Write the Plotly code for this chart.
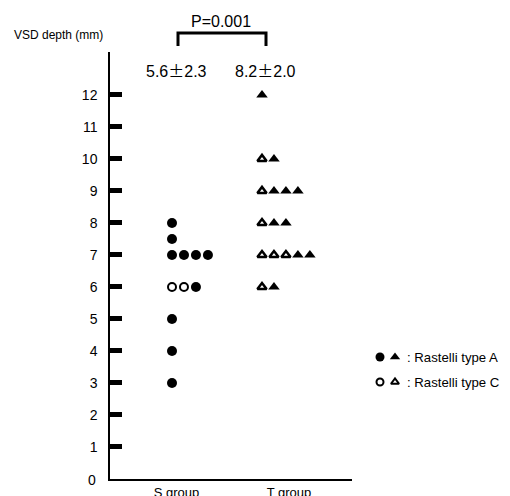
import plotly.graph_objects as go

# ---- data ----
groups = ["S group", "T group"]
s_values = [8, 7.5, 7, 7, 7, 7, 6, 6, 6, 5, 4, 3]
s_types = ["A", "A", "A", "A", "A", "A", "C", "C", "A", "A", "A", "A"]
t_values = [12, 10, 10, 9, 9, 9, 9, 8, 8, 8, 7, 7, 7, 7, 7, 6, 6]
t_types = ["A", "C", "A", "C", "A", "A", "A", "C", "A", "A", "C", "C", "C", "A", "A", "C", "A"]
y_ticks = list(range(1, 13))
means = [("5.6", "2.3"), ("8.2", "2.0")]
p_text = "P=0.001"

OFF = 8  # default page body margin
W, H = 510 - OFF, 496 - OFF
FONT = "Liberation Sans, Arial, sans-serif"
step = 0.133


def fx(p):
    return (p - OFF) / W


def fy(p):
    return 1 - (p - OFF) / H


def columns(values, gi):
    seen = {}
    xs = []
    for v in values:
        k = seen.get(v, 0)
        seen[v] = k + 1
        xs.append(gi + k * step)
    return xs


fig = go.Figure()
for gi, (vals, types, sym) in enumerate([(s_values, s_types, "circle"),
                                         (t_values, t_types, "triangle-up")]):
    xs = columns(vals, gi)
    for typ in ["A", "C"]:
        px = [x for x, t in zip(xs, types) if t == typ]
        py = [v for v, t in zip(vals, types) if t == typ]
        if typ == "A":
            marker = dict(symbol=sym, size=10, color="black", line=dict(width=0))
        else:
            marker = dict(symbol=sym, size=8, color="white",
                          line=dict(width=2.5 if sym != "circle" else 2, color="black"))
        fig.add_trace(go.Scatter(x=px, y=py, mode="markers", marker=marker,
                                 showlegend=False, hoverinfo="skip", cliponaxis=False))

# legend keys on an auxiliary axis
leg_x = [0, 1]
for row, filled in [(1, True), (0, False)]:
    for xi, sym in zip(leg_x, ["circle", "triangle-up"]):
        if filled:
            marker = dict(symbol=sym, size=9, color="black", line=dict(width=0))
        else:
            marker = dict(symbol=sym, size=7, color="white",
                          line=dict(width=2, color="black"))
        fig.add_trace(go.Scatter(x=[xi], y=[row], mode="markers", marker=marker,
                                 xaxis="x2", yaxis="y2", showlegend=False,
                                 hoverinfo="skip", cliponaxis=False))

fig.update_layout(
    width=W, height=H,
    margin=dict(l=0, r=0, t=0, b=0),
    template="none",
    paper_bgcolor="white", plot_bgcolor="white",
    font=dict(family=FONT, color="black"),
    xaxis=dict(domain=[fx(110), fx(352)], range=[-0.689, 2.0],
               showline=True, linewidth=2, linecolor="black",
               showgrid=False, zeroline=False, ticks="",
               tickvals=[0.05, 1.3], ticktext=groups,
               tickfont=dict(size=13), automargin=False),
    yaxis=dict(domain=[fy(479), fy(52)], range=[0, 13.34],
               showline=True, linewidth=1.5, linecolor="black",
               showgrid=False, zeroline=False,
               ticks="inside", ticklen=12, tickwidth=5, tickcolor="black",
               tickvals=y_ticks, ticktext=[str(v) for v in y_ticks],
               tickfont=dict(size=14), ticklabelstandoff=8, automargin=False),
    xaxis2=dict(domain=[fx(380), fx(395)], range=[0, 1], visible=False,
                anchor="y2"),
    yaxis2=dict(domain=[fy(382), fy(357)], range=[0, 1], visible=False,
                anchor="x2"),
)

pm = "<span style='font-family:Noto Sans CJK JP'>±</span>"
ann = [
    dict(text="VSD depth (mm)", x=fx(12), y=fy(35), xanchor="left", font=dict(size=12)),
    dict(text=p_text, x=fx(221), y=fy(21), xanchor="center", font=dict(size=16)),
    dict(text=means[0][0] + pm + means[0][1], x=fx(176), y=fy(70), xanchor="center", font=dict(size=16)),
    dict(text=means[1][0] + pm + means[1][1], x=fx(265), y=fy(70), xanchor="center", font=dict(size=16)),
    dict(text="0", x=fx(98), y=fy(480), xanchor="right", font=dict(size=14)),
    dict(text=": Rastelli type A", x=fx(405), y=fy(357), xanchor="left", font=dict(size=13.2)),
    dict(text=": Rastelli type C", x=fx(405), y=fy(382), xanchor="left", font=dict(size=13.2)),
]
for a in ann:
    fig.add_annotation(xref="paper", yref="paper", showarrow=False, yanchor="middle", **a)

fig.add_shape(type="path", xref="paper", yref="paper",
              path=f"M {fx(178)},{fy(46)} L {fx(178)},{fy(33)} L {fx(266)},{fy(33)} L {fx(266)},{fy(46)}",
              line=dict(color="black", width=3))

fig.write_html("out.html")
